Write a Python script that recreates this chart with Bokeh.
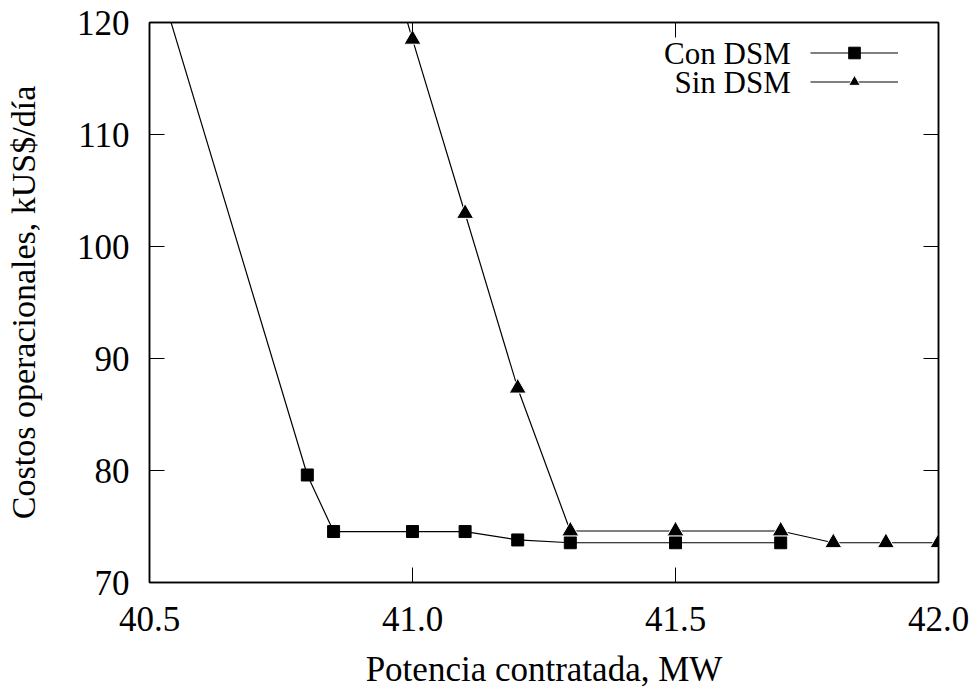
from bokeh.plotting import figure
from bokeh.models import (LinearAxis, FixedTicker, PrintfTickFormatter, CustomJSTickFormatter,
                          Legend, LegendItem, Label, Range1d)
from bokeh.embed import file_html
from bokeh.resources import INLINE

# ---- data ----
x_con = [40.5, 40.8, 40.85, 41.0, 41.1, 41.2, 41.3, 41.5, 41.7]
y_con = [126.4, 79.6, 74.55, 74.55, 74.55, 73.8, 73.55, 73.55, 73.55]

x_sin = [40.9, 41.0, 41.1, 41.2, 41.3, 41.5, 41.7, 41.8, 41.9, 42.0]
y_sin = [134.2, 118.5, 102.95, 87.35, 74.6, 74.6, 74.6, 73.55, 73.55, 73.55]

x_ticks = [40.5, 41.0, 41.5, 42.0]
y_ticks = [70, 80, 90, 100, 110, 120]
series_names = ["Con DSM", "Sin DSM"]

FONT = "Liberation Serif"

p = figure(width=973, height=691, output_backend="svg", toolbar_location=None,
           x_range=Range1d(40.5, 42.0), y_range=Range1d(70, 120),
           min_border_left=149, min_border_right=35, min_border_top=22, min_border_bottom=108)

p.xgrid.visible = False
p.ygrid.visible = False
p.outline_line_color = "black"
p.outline_line_width = 1.5
p.background_fill_color = "white"
p.border_fill_color = "white"


def style_axis(ax, ticks, show_labels):
    ax.ticker = FixedTicker(ticks=ticks)
    ax.axis_line_color = "black"
    ax.axis_line_width = 1.5
    ax.major_tick_line_color = "black"
    ax.major_tick_line_width = 1
    ax.major_tick_in = 15
    ax.major_tick_out = 0
    ax.minor_tick_in = 0
    ax.minor_tick_out = 0
    ax.minor_tick_line_color = None
    ax.major_label_text_font = FONT
    ax.major_label_text_font_size = "35px"
    ax.major_label_text_color = "black"
    if not show_labels:
        ax.formatter = CustomJSTickFormatter(code="return ''")
        ax.major_label_standoff = 0

xa = p.xaxis[0]
style_axis(xa, x_ticks, True)
xa.formatter = PrintfTickFormatter(format="%.1f")
xa.major_label_standoff = 24
xa.axis_label = "Potencia contratada, MW"
xa.axis_label_text_font = FONT
xa.axis_label_text_font_size = "35px"
xa.axis_label_text_font_style = "normal"
xa.axis_label_text_color = "black"
xa.axis_label_standoff = 16

ya = p.yaxis[0]
style_axis(ya, y_ticks, True)
ya.major_label_standoff = 20
ya.axis_label = "Costos operacionales, kUS$/día"
ya.axis_label_text_font = FONT
ya.axis_label_text_font_size = "34px"
ya.axis_label_text_font_style = "normal"
ya.axis_label_text_color = "black"
ya.axis_label_standoff = 32

top_ax = LinearAxis()
style_axis(top_ax, x_ticks, False)
p.add_layout(top_ax, "above")
right_ax = LinearAxis()
style_axis(right_ax, y_ticks, False)
p.add_layout(right_ax, "right")

l1 = p.line(x_con, y_con, line_color="black", line_width=1.2)
s1 = p.scatter(x_con, y_con, marker="square", size=12, fill_color="black", line_color="black")
l2 = p.line(x_sin, y_sin, line_color="black", line_width=1.2)
s2 = p.scatter(x_sin, y_sin, marker="triangle", size=17, fill_color="black",
               line_color="white", line_width=1)

legend = Legend(items=[LegendItem(label=" ", renderers=[l1, s1]),
                       LegendItem(label=" ", renderers=[l2, s2])],
                location=(661, 486), glyph_width=88, glyph_height=29, spacing=0,
                padding=0, margin=0, label_width=0, label_standoff=0,
                label_text_font_size="8px", border_line_color=None,
                background_fill_alpha=0)
p.add_layout(legend)

for name, yy in zip(series_names, [117.2, 114.63]):
    p.add_layout(Label(x=41.719, y=yy, text=name, text_align="right", text_baseline="middle",
                       text_font=FONT, text_font_size="31px", text_color="black"))

open("out.html", "w").write(file_html(p, INLINE))
